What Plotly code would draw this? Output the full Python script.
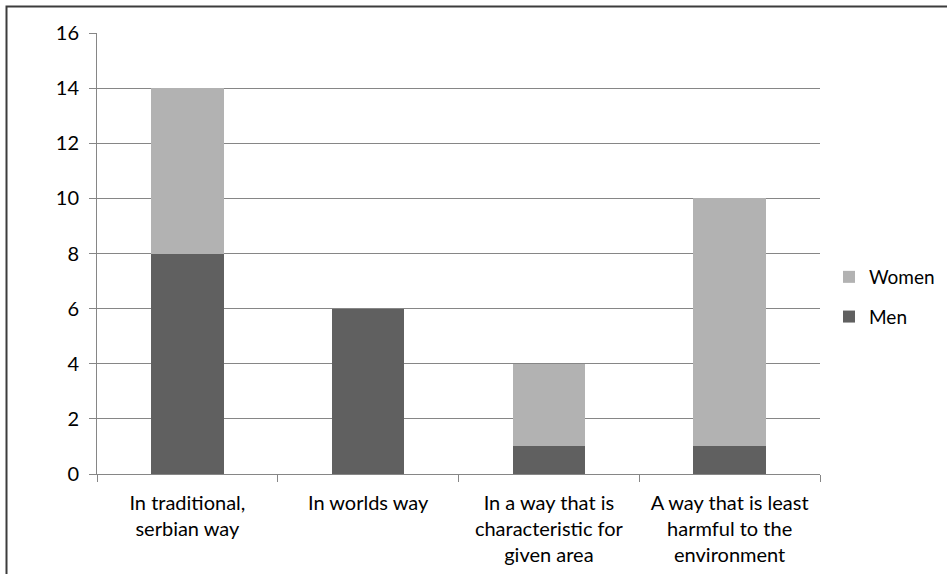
import plotly.graph_objects as go

categories = [
    "In traditional,<br>serbian way",
    "In worlds way",
    "In a way that is<br>characteristic for<br>given area",
    "A way that is least<br>harmful to the<br>environment",
]
men = [8, 6, 1, 1]
women = [6, 0, 3, 9]
y_ticks = [0, 2, 4, 6, 8, 10, 12, 14, 16]

FONT = "Lato, Carlito, Calibri, sans-serif"
W, H = 947, 574
L, R, T, B = 97, 127, 33, 100
pw, ph = W - L - R, H - T - B

fig = go.Figure()
fig.add_trace(go.Bar(x=categories, y=men, name="Men", marker_color="#606060",
                     marker_line_width=0, width=0.4, legendgroup="m", legendrank=2))
fig.add_trace(go.Bar(x=categories, y=women, name="Women", marker_color="#b2b2b2",
                     marker_line_width=0, width=0.4, legendgroup="w", legendrank=1))

# outer chart frame (cropped on the right and bottom)
fig.add_shape(type="rect", xref="paper", yref="paper",
              x0=(6.5 - L) / pw, x1=(W + 20 - L) / pw,
              y0=(T + ph - (H + 20)) / ph, y1=(T + ph - 6.5) / ph,
              line=dict(color="#3c3c3c", width=2), fillcolor="rgba(0,0,0,0)", layer="below")

fig.update_layout(
    width=W, height=H,
    margin=dict(l=L, r=R, t=T, b=B, pad=0, autoexpand=False),
    barmode="stack",
    bargap=0.6,
    plot_bgcolor="white", paper_bgcolor="white",
    font=dict(family=FONT, size=20, color="#000000"),
    showlegend=True,
    legend=dict(xref="container", yref="container",
                x=829 / W, y=1 - 297 / H, xanchor="left", yanchor="middle",
                traceorder="grouped", tracegroupgap=12,
                font=dict(family=FONT, size=19), itemwidth=30,
                bgcolor="rgba(0,0,0,0)"),
    xaxis=dict(showgrid=False, showline=True, linecolor="#868686", linewidth=1,
               ticks="outside", tickson="boundaries", ticklen=7, tickcolor="#868686",
               tickfont=dict(family=FONT, size=20), tickangle=0, zeroline=False,
               ticklabelstandoff=11),
    yaxis=dict(range=[0, 16], tickvals=y_ticks, showgrid=True, gridcolor="#868686",
               gridwidth=1, showline=True, linecolor="#868686", linewidth=1,
               ticks="outside", ticklen=7, tickcolor="#868686",
               tickfont=dict(family=FONT, size=20), zeroline=False,
               ticklabelstandoff=6),
)

fig.write_html("out.html")
